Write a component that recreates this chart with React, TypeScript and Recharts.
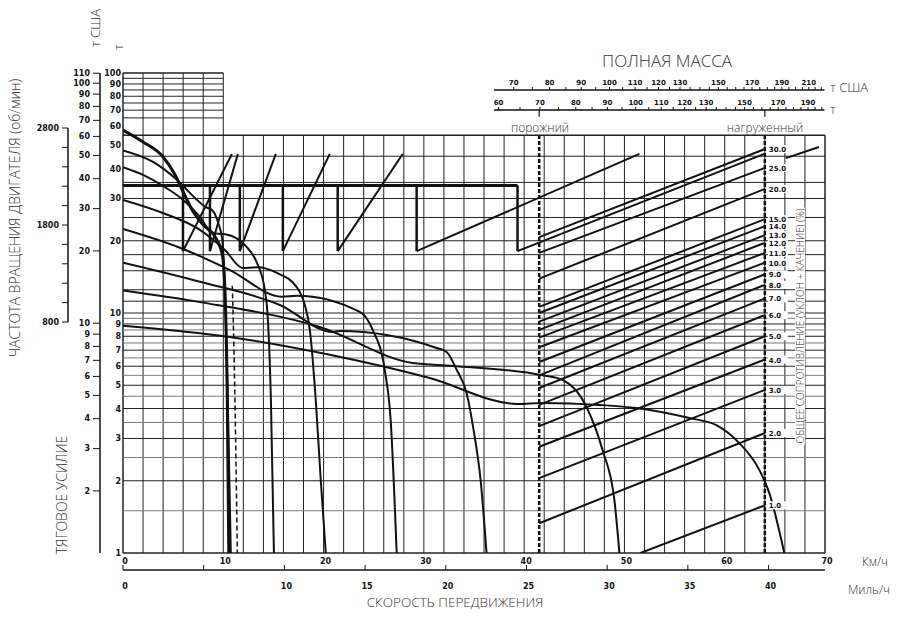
import React from 'react';
import { ComposedChart, Line, XAxis, YAxis, ReferenceLine, ReferenceDot } from 'recharts';

// Rimpull / gradeability chart of a haul truck

const INK = '#111';
const TICK_FONT = '"DejaVu Sans", sans-serif';
const TITLE_FONT = '"Open Sans", "Noto Sans", sans-serif';

// ---- axis ticks ----
const KMH_TICKS = [0, 10, 20, 30, 40, 50, 60, 70];
const MPH_TICKS = [0, 5, 10, 15, 20, 25, 30, 35, 40];
const MPH_LABELS = [0, 10, 15, 20, 25, 30, 35, 40];
const TONNE_TICKS = [1, 2, 3, 4, 5, 6, 7, 8, 9, 10, 20, 30, 40, 50, 60, 70, 80, 90, 100];
const US_TON_TICKS = [2, 3, 4, 5, 6, 7, 8, 9, 10, 20, 30, 40, 50, 60, 70, 80, 90, 100, 110];
const RPM_TICKS = [800, 1000, 1200, 1400, 1600, 1800, 2000, 2200, 2400, 2600, 2800];
const RPM_LABELS = [800, 1800, 2800];
const MASS_T_TICKS = [60, 65, 70, 75, 80, 85, 90, 95, 100, 105, 110, 115, 120, 125, 130, 135, 140, 145, 150, 155, 160, 165, 170, 175, 180, 185, 190, 195, 200];
const MASS_T_LABELS = [60, 70, 80, 90, 100, 110, 120, 130, 150, 170, 190];
const MASS_US_TICKS = [70, 75, 80, 85, 90, 95, 100, 105, 110, 115, 120, 125, 130, 135, 140, 145, 150, 155, 160, 165, 170, 175, 180, 185, 190, 195, 200, 205, 210, 215, 220];
const MASS_US_LABELS = [70, 80, 90, 100, 110, 120, 130, 150, 170, 190, 210];

// ---- grid ----
const GRID_SPEEDS = [0, 2, 4, 6, 8, 10, 12, 14, 16, 18, 20, 22, 24, 26, 28, 30, 32, 34, 36, 38, 40, 42, 44, 46, 48, 50, 52, 54, 56, 58, 60, 62, 64, 66, 68, 70];
const GRID_FORCES = [1, 1.5, 2, 2.5, 3, 3.5, 4, 4.5, 5, 5.5, 6, 6.5, 7, 7.5, 8, 8.5, 9, 9.5, 10, 11.2, 12.5, 15, 17.5, 20, 25, 30, 35, 45, 55];
const GRID_FORCES_BOX = [65, 70, 75, 80, 85, 90, 95, 100];

// ---- rimpull curves: [km/h, tonnes] ----
const GEAR_1 = [[0, 57.9], [2.0, 51.6], [4.0, 44.7], [5.2, 37.6], [6.2, 30.7], [7.0, 26.4], [8.0, 23.3], [9.2, 20.7], [9.9, 17.5], [10.2, 11.3], [10.4, 4.34], [10.55, 1]];
const GEAR_2 = [[0, 47.6], [3.0, 42.6], [5.4, 35.8], [7.2, 30.1], [8.2, 27.7], [8.9, 26.8], [9.5, 23.7], [9.9, 20.2], [10.2, 11.3], [10.45, 4.34], [10.75, 1]];
const GEAR_3 = [[0, 40.5], [2.0, 37.6], [4.0, 33.8], [6.0, 29.6], [7.7, 25.1], [8.9, 21.5], [10.2, 21.3], [12.35, 18.8], [13.35, 16.2], [14.15, 12.4], [14.45, 9.35], [14.75, 4.34], [15.05, 1]];
const GEAR_4 = [[0, 29.6], [3.98, 26.1], [7.67, 22.2], [10.16, 18.3], [11.95, 15.4], [13.35, 15.5], [15.34, 14.7], [17.33, 12.8], [18.13, 10.8], [18.63, 8.5], [19.22, 4.34], [19.72, 2.01], [20.22, 1]];
const GEAR_5 = [[0, 22.4], [5.68, 18.7], [10.66, 15.1], [15.84, 11.7], [17.33, 11.8], [23.61, 10.1], [24.9, 8.5], [26.1, 5.8], [26.69, 3.58], [27.29, 1]];
const GEAR_6 = [[0, 16.2], [7.67, 13.5], [15.64, 10.8], [20.92, 8.33], [21.61, 8.41], [31.27, 7.15], [32.27, 6.88], [33.27, 5.8], [34.26, 4.64], [34.96, 3.25], [35.66, 2.01], [36.25, 1]];
const GEAR_7 = [[0, 12.4], [7.67, 11.1], [19.62, 8.74], [28.88, 6.19], [32.87, 6.02], [41.83, 5.5], [43.82, 5.26], [46.22, 4.06], [47.81, 2.69], [49.0, 1.66], [49.5, 1]];
const GEAR_8 = [[0, 8.85], [10.66, 7.94], [20.62, 6.7], [30.58, 5.36], [39.34, 4.18], [41.83, 4.22], [47.51, 4.14], [51.2, 4.02], [56.47, 3.65], [59.16, 3.41], [61.45, 2.87], [63.45, 2.22], [64.44, 1.78], [65.94, 1]];
const DASHED_GEAR = [[10.9, 13], [11.1, 6], [11.4, 1]];
const GEAR_CURVES = [GEAR_1, GEAR_2, GEAR_3, GEAR_4, GEAR_5, GEAR_6, GEAR_7, GEAR_8];

// ---- shift pattern (sawtooth) ----
const SHIFT_LINE_FORCE = 34;
const SHIFT_LINE_END = 39.34;
const SHIFT_SPEEDS = [5.98, 8.67, 11.65, 15.94, 21.41, 29.28, 39.34];
const SHIFT_DROP_FORCE = 18.1;
const RPM_LINE_TOP_SPEEDS = [10.86, 11.45, 15.24, 20.62, 27.89, 51.49, 63.94];
const RPM_LINE_TOP_FORCE = 46;
const EXTRA_SEGMENT = [[66.1, 44.2], [69.4, 49.2]];

// ---- grade lines: total resistance % ----
const EMPTY_SPEED = 41.5;
const LOADED_SPEED = 64;
const GRADE_PCT = ['30.0', '25.0', '20.0', '15.0', '14.0', '13.0', '12.0', '11.0', '10.0', '9.0', '8.0', '7.0', '6.0', '5.0', '4.0', '3.0', '2.0', '1.0'];
const GRADE_START_SPEED = [41.5, 41.5, 41.5, 41.5, 41.5, 41.5, 41.5, 41.5, 41.5, 41.5, 41.5, 41.5, 41.5, 41.5, 41.5, 41.5, 41.5, 51.6];
const GRADE_START_FORCE = [20.7, 17.8, 13.9, 10.6, 10.0, 9.2, 8.5, 7.9, 7.2, 6.25, 5.5, 4.87, 4.14, 3.38, 2.77, 2.05, 1.33, 1.0];
const GRADE_END_FORCE = [48.2, 40.2, 32.9, 24.6, 23.0, 21.1, 19.6, 17.8, 16.2, 14.5, 13.1, 11.5, 9.8, 8.0, 6.4, 4.78, 3.16, 1.58];

// empty / loaded marks hanging under the tonne mass scale
const MASS_MARK_FORCES = [65.7, 70.1];

const pts = (pairs: number[][]) => pairs.map(([v, t]) => ({ v, t }));

const seg = (key: string, data: number[][], width: number, dash?: string, type: any = 'linear') => (
  <Line
    key={key}
    xAxisId="kmh"
    yAxisId="t"
    data={pts(data)}
    dataKey="t"
    type={type}
    stroke={INK}
    strokeWidth={width}
    strokeDasharray={dash}
    dot={false}
    activeDot={false}
    isAnimationActive={false}
  />
);

const tickText = { fontSize: 8, fontWeight: 700, fill: INK, fontFamily: TICK_FONT };
const massText = { fontSize: 7, fontWeight: 700, fill: INK, fontFamily: TICK_FONT };

const TonneTick = ({ x, y, payload }: any) => (
  <text x={x} y={y} dy={3} textAnchor="end" {...tickText}>{payload.value}</text>
);

// mph ticks point up from the axis line, labels sit below it
const MphTick = ({ x, y, payload }: any) => (
  <g>
    <line x1={x} x2={x} y1={y} y2={y - 5} stroke={INK} strokeWidth={1} />
    {MPH_LABELS.includes(payload.value) && (
      <text x={x + 2} y={y + 19} textAnchor="middle" {...tickText}>{payload.value}</text>
    )}
  </g>
);

const GradeLabel = ({ viewBox, text }: any) => {
  if (!viewBox) return null;
  const x = viewBox.x + 3;
  const y = viewBox.y;
  return (
    <g>
      <rect x={x} y={y - 4} width={20} height={8} fill="#fff" />
      <text x={x + 1} y={y + 3} fontSize={7} fontWeight={700} fill={INK} fontFamily={TICK_FONT}>{text}</text>
    </g>
  );
};

const title: React.CSSProperties = {
  position: 'absolute',
  whiteSpace: 'nowrap',
  fontFamily: TITLE_FONT,
  fontWeight: 300,
  color: '#333',
  lineHeight: 1,
};
const at = (cx: number, cy: number, size: number, rotate = false): React.CSSProperties => ({
  ...title,
  left: cx,
  top: cy,
  fontSize: size,
  transform: `translate(-50%, -50%)${rotate ? ' rotate(-90deg)' : ''}`,
});

export default function App() {
  return (
    <div style={{ position: 'relative', width: 900, height: 628, margin: -8, background: '#fff', overflow: 'hidden' }}>
      <ComposedChart width={900} height={628} margin={{ top: 73, right: 75, bottom: 28, left: 68 }}>
        <XAxis xAxisId="kmh" dataKey="v" type="number" domain={[0, 70]} allowDataOverflow ticks={KMH_TICKS} interval={0}
          height={17} axisLine={false} tickLine={false} tickSize={3} tickMargin={2} tick={{ ...tickText, dx: 2 }} />
        <XAxis xAxisId="mph" dataKey="v" type="number" domain={[0, 43.496]} allowDataOverflow ticks={MPH_TICKS} interval={0}
          height={30} axisLine={{ stroke: INK, strokeWidth: 1.5 }} tickLine={false} tickSize={0} tickMargin={0}
          tick={MphTick} />
        <YAxis yAxisId="t" type="number" scale="log" domain={[1, 100]} allowDataOverflow ticks={TONNE_TICKS} interval={0}
          width={23} axisLine={false} tickLine={false} tickSize={0} tickMargin={2} tick={TonneTick} />
        <YAxis yAxisId="us" type="number" scale="log" domain={[1.1023, 110.23]} allowDataOverflow ticks={US_TON_TICKS} interval={0}
          width={32} axisLine={{ stroke: INK, strokeWidth: 1.5 }} tickLine={{ stroke: INK }} tickSize={7} tickMargin={3} tick={tickText} />

        {/* grid */}
        {GRID_SPEEDS.map((v) => (
          <ReferenceLine key={`gv${v}`} xAxisId="kmh" yAxisId="t" stroke="#222" strokeWidth={v === 0 || v === 70 ? 1.5 : 1}
            segment={[{ x: v, y: 1 }, { x: v, y: v <= 10 ? 100 : 55 }]} />
        ))}
        {GRID_FORCES.map((t) => (
          <ReferenceLine key={`gh${t}`} xAxisId="kmh" yAxisId="t"
            stroke={Number.isInteger(t) || t >= 10 ? '#222' : '#777'} strokeWidth={t === 1 || t === 55 ? 1.5 : 1}
            segment={[{ x: 0, y: t }, { x: 70, y: t }]} />
        ))}
        {GRID_FORCES_BOX.map((t) => (
          <ReferenceLine key={`gb${t}`} xAxisId="kmh" yAxisId="t" stroke="#222" strokeWidth={t === 100 ? 1.5 : 1}
            segment={[{ x: 0, y: t }, { x: 10, y: t }]} />
        ))}

        {/* empty / loaded mass lines */}
        {[EMPTY_SPEED, LOADED_SPEED].map((v) => (
          <ReferenceLine key={`m${v}`} xAxisId="kmh" yAxisId="t" stroke={INK} strokeWidth={2.5} strokeDasharray="4 2"
            segment={[{ x: v, y: 1 }, { x: v, y: 55 }]} />
        ))}
        {[EMPTY_SPEED, LOADED_SPEED].map((v) => (
          <ReferenceLine key={`mm${v}`} xAxisId="kmh" yAxisId="t" stroke={INK} strokeWidth={1.2}
            segment={[{ x: v, y: MASS_MARK_FORCES[0] }, { x: v, y: MASS_MARK_FORCES[1] }]} />
        ))}

        {/* grade lines */}
        {GRADE_PCT.map((g, i) =>
          seg(`gr${g}`, [[GRADE_START_SPEED[i], GRADE_START_FORCE[i]], [LOADED_SPEED, GRADE_END_FORCE[i]]], 2)
        )}
        {seg('extra', EXTRA_SEGMENT, 2)}
        {GRADE_PCT.map((g, i) => (
          <ReferenceDot key={`gl${g}`} xAxisId="kmh" yAxisId="t" x={LOADED_SPEED} y={GRADE_END_FORCE[i]} r={0}
            fill="none" stroke="none" label={<GradeLabel text={g} />} />
        ))}

        {/* shift pattern */}
        {seg('shift', [[0, SHIFT_LINE_FORCE], [SHIFT_LINE_END, SHIFT_LINE_FORCE]], 3)}
        {SHIFT_SPEEDS.map((v, i) => seg(`drop${i}`, [[v, SHIFT_LINE_FORCE], [v, SHIFT_DROP_FORCE]], 2.5))}
        {SHIFT_SPEEDS.map((v, i) =>
          seg(`rpm${i}`, [[v, SHIFT_DROP_FORCE], [RPM_LINE_TOP_SPEEDS[i], RPM_LINE_TOP_FORCE]], 2)
        )}

        {/* rimpull curves */}
        {GEAR_CURVES.map((c, i) => seg(`gear${i}`, c, i === 0 ? 3 : 2, undefined, 'monotone'))}
        {seg('dashedGear', DASHED_GEAR, 1.5, '5 3', 'monotone')}
      </ComposedChart>

      {/* engine speed axis */}
      <div style={{ position: 'absolute', left: 0, top: 0 }}>
        <ComposedChart width={900} height={628} margin={{ top: 128, right: 10, bottom: 306, left: 28 }}>
          <XAxis hide dataKey="v" type="number" domain={[0, 1]} />
          <YAxis yAxisId="rpm" type="number" domain={[800, 2800]} allowDataOverflow ticks={RPM_TICKS} interval={0} width={40}
            axisLine={{ stroke: INK, strokeWidth: 1.5 }} tickLine={{ stroke: INK }} tickSize={6} tickMargin={3}
            tickFormatter={(v: number) => (RPM_LABELS.includes(v) ? String(v) : '')} tick={tickText} />
        </ComposedChart>
      </div>

      {/* gross mass scales */}
      <div style={{ position: 'absolute', left: 0, top: 0 }}>
        <ComposedChart width={900} height={140} margin={{ top: 70, right: 75.5, bottom: 10, left: 494 }}>
          <XAxis xAxisId="massT" dataKey="m" orientation="top" type="number" scale="log" domain={[59, 202]} allowDataOverflow
            ticks={MASS_T_TICKS} interval={0} height={20} axisLine={{ stroke: INK, strokeWidth: 1.5 }}
            tickLine={{ stroke: INK }} tickSize={3} tickMargin={2}
            tickFormatter={(v: number) => (MASS_T_LABELS.includes(v) ? String(v) : '')} tick={massText} />
          <XAxis xAxisId="massUS" dataKey="m" orientation="top" type="number" scale="log" domain={[65.04, 222.66]} allowDataOverflow
            ticks={MASS_US_TICKS} interval={0} height={20} axisLine={{ stroke: INK, strokeWidth: 1.5 }}
            tickLine={{ stroke: INK }} tickSize={3} tickMargin={2}
            tickFormatter={(v: number) => (MASS_US_LABELS.includes(v) ? String(v) : '')} tick={massText} />
          <YAxis hide />
        </ComposedChart>
      </div>

      {/* titles */}
      <div style={at(15, 218, 14, true)}>ЧАСТОТА ВРАЩЕНИЯ ДВИГАТЕЛЯ (об/мин)</div>
      <div style={at(62, 495, 14, true)}>ТЯГОВОЕ УСИЛИЕ</div>
      <div style={at(95, 28, 13, true)}>т США</div>
      <div style={at(118, 47, 13, true)}>т</div>
      <div style={at(667, 60, 17)}>ПОЛНАЯ МАССА</div>
      <div style={{ ...title, left: 830, top: 81, fontSize: 13 }}>т США</div>
      <div style={{ ...title, left: 830, top: 103, fontSize: 13 }}>т</div>
      <div style={at(540, 128, 12)}>порожний</div>
      <div style={at(765, 128, 12)}>нагруженный</div>
      <div style={{ ...at(800, 326, 10, true), background: '#fff', padding: '0 1px' }}>
        ОБЩЕЕ СОПРОТИВЛЕНИЕ (УКЛОН + КАЧЕНИЕ) (%)
      </div>
      <div style={at(455, 603, 13.5)}>СКОРОСТЬ ПЕРЕДВИЖЕНИЯ</div>
      <div style={{ ...title, left: 862, top: 556, fontSize: 12 }}>Км/ч</div>
      <div style={{ ...title, left: 848, top: 584, fontSize: 12 }}>Миль/ч</div>
    </div>
  );
}
